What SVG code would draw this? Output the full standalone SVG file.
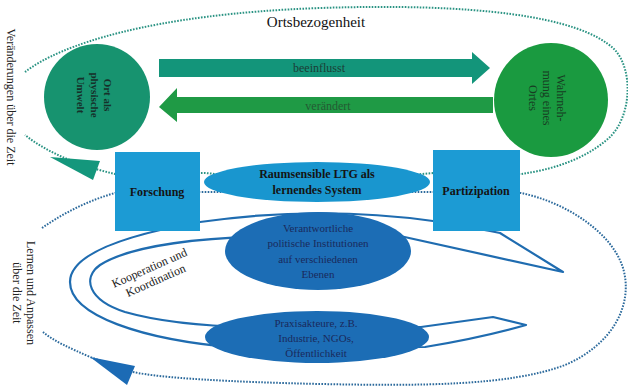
<svg xmlns="http://www.w3.org/2000/svg" width="628" height="391" viewBox="0 0 628 391">
<style>
.t{font-family:"Liberation Serif","Times New Roman",serif;}
.dotT{fill:none;stroke:#2a9383;stroke-width:2;stroke-dasharray:1.6 1.4;}
.dotB{fill:none;stroke:#2c6a9c;stroke-width:2;stroke-dasharray:1.6 1.4;}
.loop{fill:none;stroke:#1f6cb0;stroke-width:2.2;stroke-linejoin:round;}
.box{fill:#1c9bd4;}
.dark{fill:#1c6db5;}
.bold{font-weight:bold;fill:#141414;font-size:12px;}
.navy{fill:#1a2a5c;font-size:11px;}
</style>
<rect width="628" height="391" fill="#ffffff"/>
<g id="connectors">
<path class="dotT" d="M25,72 C60,45 150,14 320,8 C470,3 580,15 615,50 C633,70 632,115 610,137 C585,160 550,170 521,174 L433,173 Q318,184 205,173 L115,174 C85,167 50,155 25,135"/>
<polygon points="50,157 100,161 93,180" fill="#14977c"/>
<path class="dotB" d="M42,228 C65,212 90,200 115,193 L205,192 L433,192 L521,193 C565,202 612,232 623,268 C634,305 612,345 565,365 C510,386 420,386 320,384 C230,382 160,378 133,372 L90,357 C70,348 55,342 43,332"/>
<polygon points="90,357 135,366 127,385" fill="#1c6bb5"/>
<path class="loop" d="M490,231 L500,233 L563,272 L400,236 L300,236 C200,236 130,246 100,265 C82,278 88,300 125,312 C160,322 200,326 250,327 L421,327 L493,317 L526,325 Q480,338 425,347 L240,348 C140,340 70,315 70,282 C70,255 120,236 200,222 Q318,205 433,221 L490,231 Z"/>
<g id="arrow-beeinflusst">
<polygon points="159,59 472,59 472,52 490,68 472,84 472,77 159,77" fill="#13957a"/>
<text class="t" x="319" y="72" text-anchor="middle" font-size="12" fill="#1b3d36">beeinflusst</text>
</g>
<g id="arrow-veraendert">
<polygon points="493,97 177,97 177,88 159,107 177,122 177,113 493,113" fill="#1f9a45"/>
<text class="t" x="328" y="110" text-anchor="middle" font-size="12" fill="#245a33">verändert</text>
</g>
</g>
<text class="t" x="316" y="27" text-anchor="middle" font-size="15" fill="#111">Ortsbezogenheit</text>
<text class="t" transform="translate(7,97) rotate(90)" text-anchor="middle" font-size="12" fill="#222">Veränderungen über die Zeit</text>
<text class="t" transform="translate(27,293) rotate(90)" text-anchor="middle" font-size="12" fill="#222">Lernen und Anpassen</text>
<text class="t" transform="translate(13,293) rotate(90)" text-anchor="middle" font-size="12" fill="#222">über die Zeit</text>
<g id="ort">
<circle cx="97" cy="97" r="53" fill="#17936f"/>
<text class="t" transform="translate(104,95) rotate(90)" text-anchor="middle" font-size="11" font-weight="bold" fill="#16302a">Ort als</text>
<text class="t" transform="translate(91,95) rotate(90)" text-anchor="middle" font-size="11" font-weight="bold" fill="#16302a">physische</text>
<text class="t" transform="translate(77,95) rotate(90)" text-anchor="middle" font-size="11" font-weight="bold" fill="#16302a">Umwelt</text>
</g>
<g id="wahrnehmung">
<circle cx="551" cy="100" r="57" fill="#1a9a40"/>
<text class="t" transform="translate(557,98) rotate(90)" text-anchor="middle" font-size="12" fill="#173d22">Wahrneh-</text>
<text class="t" transform="translate(543,98) rotate(90)" text-anchor="middle" font-size="12" fill="#173d22">mung eines</text>
<text class="t" transform="translate(529,98) rotate(90)" text-anchor="middle" font-size="12" fill="#173d22">Ortes</text>
</g>
<g id="forschung">
<rect class="box" x="115" y="152" width="85" height="79"/>
<text class="t bold" x="157" y="196" text-anchor="middle">Forschung</text>
</g>
<g id="partizipation">
<rect class="box" x="433" y="150" width="87" height="81"/>
<text class="t bold" x="476" y="195" text-anchor="middle">Partizipation</text>
</g>
<g id="ltg">
<ellipse cx="317" cy="182" rx="113" ry="20" fill="#1996cf"/>
<text class="t bold" x="317" y="178" text-anchor="middle">Raumsensible LTG als</text>
<text class="t bold" x="317" y="194" text-anchor="middle">lernendes System</text>
</g>
<g id="institutionen">
<ellipse class="dark" cx="318" cy="251" rx="93" ry="39"/>
<text class="t navy" x="318" y="232" text-anchor="middle">Verantwortliche</text>
<text class="t navy" x="318" y="247" text-anchor="middle">politische Institutionen</text>
<text class="t navy" x="318" y="263" text-anchor="middle">auf verschiedenen</text>
<text class="t navy" x="318" y="278" text-anchor="middle">Ebenen</text>
</g>
<g id="praxis">
<ellipse class="dark" cx="317" cy="337" rx="112" ry="26"/>
<text class="t navy" x="316" y="327" text-anchor="middle">Praxisakteure, z.B.</text>
<text class="t navy" x="316" y="342" text-anchor="middle">Industrie, NGOs,</text>
<text class="t navy" x="316" y="357" text-anchor="middle">Öffentlichkeit</text>
</g>
<text class="t" transform="translate(114,288) rotate(-24)" font-size="12" fill="#1a1a1a"><tspan x="0" y="0">Kooperation und</tspan><tspan x="9" y="14">Koordination</tspan></text>
</svg>
